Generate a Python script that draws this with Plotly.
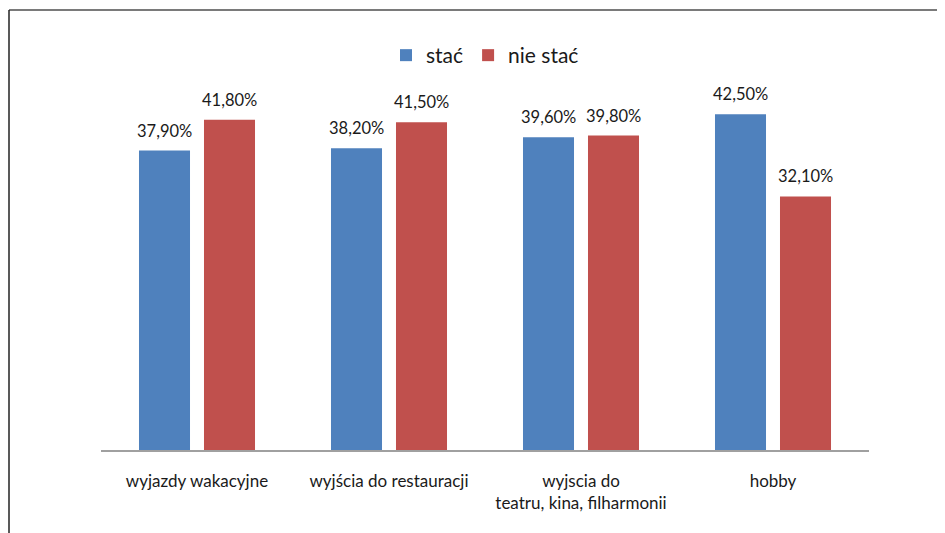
import plotly.graph_objects as go

categories = ["wyjazdy wakacyjne", "wyjścia do restauracji", "wyjscia do<br>teatru, kina, filharmonii", "hobby"]
stac = [37.9, 38.2, 39.6, 42.5]
nie_stac = [41.8, 41.5, 39.8, 32.1]
series_names = ["stać", "nie stać"]

def fmt(v):
    return ("%.2f%%" % v).replace(".", ",")

OFF = 8  # page body margin
W, H = 945 - OFF, 533 - OFF
L, R, T, B = 101 - OFF, 869 - OFF, 55 - OFF, 450 - OFF

def px(x):
    return (x - OFF - L) / (R - L)

def py(y):
    return (B - (y - OFF)) / (B - T)

font_family = "Lato, 'Open Sans', sans-serif"
txt = "#1a1a1a"

fig = go.Figure()
fig.add_trace(go.Bar(x=categories, y=stac, name=series_names[0],
                     marker=dict(color="#4F81BD", line=dict(width=0))))
fig.add_trace(go.Bar(x=categories, y=nie_stac, name=series_names[1],
                     marker=dict(color="#C0504D", line=dict(width=0))))

annotations = []
for vals, shift in ((stac, -32.5), (nie_stac, 32.5)):
    for c, v in zip(categories, vals):
        annotations.append(dict(x=c, y=v, xref="x", yref="y", text=fmt(v), showarrow=False,
                                xshift=shift, yshift=20, yanchor="middle",
                                font=dict(size=16.5, color=txt, family=font_family)))

fig.update_layout(
    width=W, height=H, autosize=False,
    margin=dict(l=L, r=W - R, t=T, b=H - B, pad=0),
    paper_bgcolor="white", plot_bgcolor="white",
    barmode="group", bargap=0.323, bargroupgap=0.215,
    font=dict(family=font_family, color=txt, size=17),
    showlegend=True,
    legend=dict(orientation="h", x=0.5, xanchor="center", y=py(35), yanchor="top",
                font=dict(size=21, color=txt), traceorder="normal"),
    xaxis=dict(showline=True, linecolor="#a0a0a0", linewidth=1.5, ticks="",
               ticklabelstandoff=15, tickfont=dict(size=17, color=txt),
               showgrid=False, zeroline=False, automargin=False),
    yaxis=dict(range=[0, 50], visible=False, showgrid=False, zeroline=False),
    annotations=annotations,
    shapes=[
        dict(type="line", xref="paper", yref="paper", x0=px(9), x1=px(945), y0=py(10), y1=py(10),
             line=dict(color="#7a7a7a", width=2)),
        dict(type="line", xref="paper", yref="paper", x0=px(9), x1=px(9), y0=py(10), y1=py(533),
             line=dict(color="#222222", width=1.5)),
    ],
)

fig.write_html("out.html")
